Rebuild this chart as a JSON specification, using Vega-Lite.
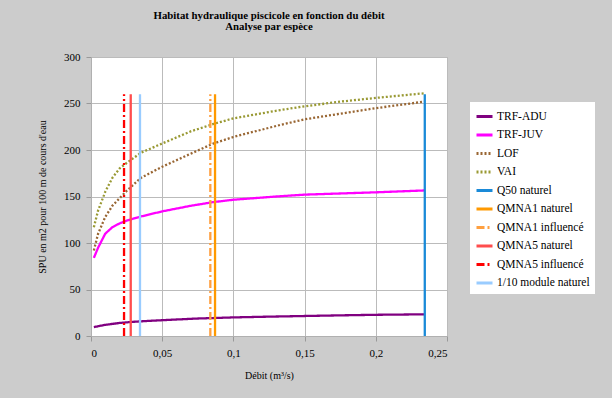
{
  "$schema": "https://vega.github.io/schema/vega-lite/v6.json",
  "width": 356,
  "height": 279,
  "autosize": {"type": "none"},
  "padding": {"left": 91, "top": 57, "right": 165, "bottom": 62},
  "background": "#cccccc",
  "title": {
    "text": ["Habitat hydraulique piscicole en fonction du débit", "Analyse par espèce"],
    "font": "Liberation Serif",
    "fontSize": 10.8,
    "fontWeight": "bold",
    "anchor": "middle",
    "color": "black",
    "lineHeight": 11,
    "offset": 19
  },
  "config": {
    "view": {"fill": "white", "stroke": "#b0b0b0"},
    "axis": {
      "labelFont": "Liberation Serif",
      "labelFontSize": 11,
      "labelColor": "black",
      "titleFont": "Liberation Serif",
      "titleFontSize": 10,
      "titleFontWeight": "normal",
      "titleColor": "black",
      "tickColor": "#999999",
      "tickSize": 5,
      "gridColor": "#bbbbbb",
      "domainColor": "#b0b0b0"
    },
    "legend": {
      "orient": "none",
      "legendX": 379,
      "legendY": 45,
      "fillColor": "white",
      "padding": 5,
      "labelFont": "Liberation Serif",
      "labelFontSize": 11.5,
      "labelColor": "black",
      "symbolType": "stroke",
      "symbolSize": 256,
      "symbolStrokeWidth": 3,
      "rowPadding": 2.5,
      "labelOffset": 3
    }
  },
  "data": {
    "values": [
      {"s": "TRF-ADU", "x": 0.002, "y": 9.5},
      {"s": "TRF-ADU", "x": 0.005, "y": 10.5},
      {"s": "TRF-ADU", "x": 0.01, "y": 12},
      {"s": "TRF-ADU", "x": 0.015, "y": 13},
      {"s": "TRF-ADU", "x": 0.02, "y": 14},
      {"s": "TRF-ADU", "x": 0.03, "y": 15.3},
      {"s": "TRF-ADU", "x": 0.04, "y": 16.2},
      {"s": "TRF-ADU", "x": 0.05, "y": 17},
      {"s": "TRF-ADU", "x": 0.075, "y": 18.8},
      {"s": "TRF-ADU", "x": 0.1, "y": 20},
      {"s": "TRF-ADU", "x": 0.125, "y": 20.8},
      {"s": "TRF-ADU", "x": 0.15, "y": 21.5},
      {"s": "TRF-ADU", "x": 0.175, "y": 22.2},
      {"s": "TRF-ADU", "x": 0.2, "y": 22.8},
      {"s": "TRF-ADU", "x": 0.234, "y": 23.3},

      {"s": "TRF-JUV", "x": 0.002, "y": 84},
      {"s": "TRF-JUV", "x": 0.005, "y": 95},
      {"s": "TRF-JUV", "x": 0.01, "y": 110},
      {"s": "TRF-JUV", "x": 0.015, "y": 117},
      {"s": "TRF-JUV", "x": 0.02, "y": 121},
      {"s": "TRF-JUV", "x": 0.025, "y": 124},
      {"s": "TRF-JUV", "x": 0.035, "y": 128.5},
      {"s": "TRF-JUV", "x": 0.05, "y": 134},
      {"s": "TRF-JUV", "x": 0.07, "y": 140},
      {"s": "TRF-JUV", "x": 0.086, "y": 144},
      {"s": "TRF-JUV", "x": 0.1, "y": 146.5},
      {"s": "TRF-JUV", "x": 0.13, "y": 150},
      {"s": "TRF-JUV", "x": 0.15, "y": 152},
      {"s": "TRF-JUV", "x": 0.2, "y": 154.5},
      {"s": "TRF-JUV", "x": 0.234, "y": 156.5},

      {"s": "LOF", "x": 0.002, "y": 92},
      {"s": "LOF", "x": 0.005, "y": 110},
      {"s": "LOF", "x": 0.01, "y": 128},
      {"s": "LOF", "x": 0.015, "y": 140},
      {"s": "LOF", "x": 0.02, "y": 148},
      {"s": "LOF", "x": 0.025, "y": 156},
      {"s": "LOF", "x": 0.035, "y": 170},
      {"s": "LOF", "x": 0.05, "y": 182},
      {"s": "LOF", "x": 0.07, "y": 196},
      {"s": "LOF", "x": 0.086, "y": 207},
      {"s": "LOF", "x": 0.1, "y": 214},
      {"s": "LOF", "x": 0.133, "y": 227},
      {"s": "LOF", "x": 0.15, "y": 233},
      {"s": "LOF", "x": 0.175, "y": 239},
      {"s": "LOF", "x": 0.2, "y": 245},
      {"s": "LOF", "x": 0.234, "y": 252},

      {"s": "VAI", "x": 0.002, "y": 117},
      {"s": "VAI", "x": 0.005, "y": 135},
      {"s": "VAI", "x": 0.01, "y": 155},
      {"s": "VAI", "x": 0.015, "y": 170},
      {"s": "VAI", "x": 0.02, "y": 180},
      {"s": "VAI", "x": 0.025, "y": 186},
      {"s": "VAI", "x": 0.035, "y": 197},
      {"s": "VAI", "x": 0.05, "y": 207},
      {"s": "VAI", "x": 0.07, "y": 220},
      {"s": "VAI", "x": 0.086, "y": 228},
      {"s": "VAI", "x": 0.1, "y": 234},
      {"s": "VAI", "x": 0.133, "y": 243},
      {"s": "VAI", "x": 0.15, "y": 247},
      {"s": "VAI", "x": 0.175, "y": 252},
      {"s": "VAI", "x": 0.2, "y": 256},
      {"s": "VAI", "x": 0.234, "y": 261},

      {"s": "Q50 naturel", "x": 0.2344, "y": 0},
      {"s": "Q50 naturel", "x": 0.2344, "y": 260},
      {"s": "QMNA1 naturel", "x": 0.0871, "y": 0},
      {"s": "QMNA1 naturel", "x": 0.0871, "y": 260},
      {"s": "QMNA1 influencé", "x": 0.0838, "y": 0},
      {"s": "QMNA1 influencé", "x": 0.0838, "y": 260},
      {"s": "QMNA5 naturel", "x": 0.0279, "y": 0},
      {"s": "QMNA5 naturel", "x": 0.0279, "y": 260},
      {"s": "QMNA5 influencé", "x": 0.0232, "y": 0},
      {"s": "QMNA5 influencé", "x": 0.0232, "y": 260},
      {"s": "1/10 module naturel", "x": 0.0344, "y": 0},
      {"s": "1/10 module naturel", "x": 0.0344, "y": 260}
    ]
  },
  "mark": {"type": "line", "strokeWidth": 2.3, "clip": true},
  "encoding": {
    "x": {
      "field": "x",
      "type": "quantitative",
      "title": "Débit (m³/s)",
      "scale": {"domain": [0, 0.25]},
      "axis": {
        "values": [0, 0.05, 0.1, 0.15, 0.2, 0.25],
        "labelExpr": "replace(format(datum.value, '~g'), '.', ',')",
        "labelPadding": 6,
        "titlePadding": 12
      }
    },
    "y": {
      "field": "y",
      "type": "quantitative",
      "title": "SPU en m2 pour 100 m de cours d'eau",
      "scale": {"domain": [0, 300]},
      "axis": {
        "values": [0, 50, 100, 150, 200, 250, 300],
        "labelPadding": 6,
        "titlePadding": 16
      }
    },
    "color": {
      "field": "s",
      "type": "nominal",
      "title": null,
      "scale": {
        "domain": ["TRF-ADU", "TRF-JUV", "LOF", "VAI", "Q50 naturel", "QMNA1 naturel", "QMNA1 influencé", "QMNA5 naturel", "QMNA5 influencé", "1/10 module naturel"],
        "range": ["#800080", "#ff00ff", "#996633", "#999933", "#1a8ad8", "#ff9900", "#ffa040", "#ff4d4d", "#ff0000", "#99ccff"]
      }
    },
    "strokeDash": {
      "field": "s",
      "type": "nominal",
      "title": null,
      "scale": {
        "domain": ["TRF-ADU", "TRF-JUV", "LOF", "VAI", "Q50 naturel", "QMNA1 naturel", "QMNA1 influencé", "QMNA5 naturel", "QMNA5 influencé", "1/10 module naturel"],
        "range": [[1, 0], [1, 0], [2, 2], [2, 2], [1, 0], [1, 0], [8, 3, 2, 3], [1, 0], [8, 3, 2, 3], [1, 0]]
      }
    }
  }
}
